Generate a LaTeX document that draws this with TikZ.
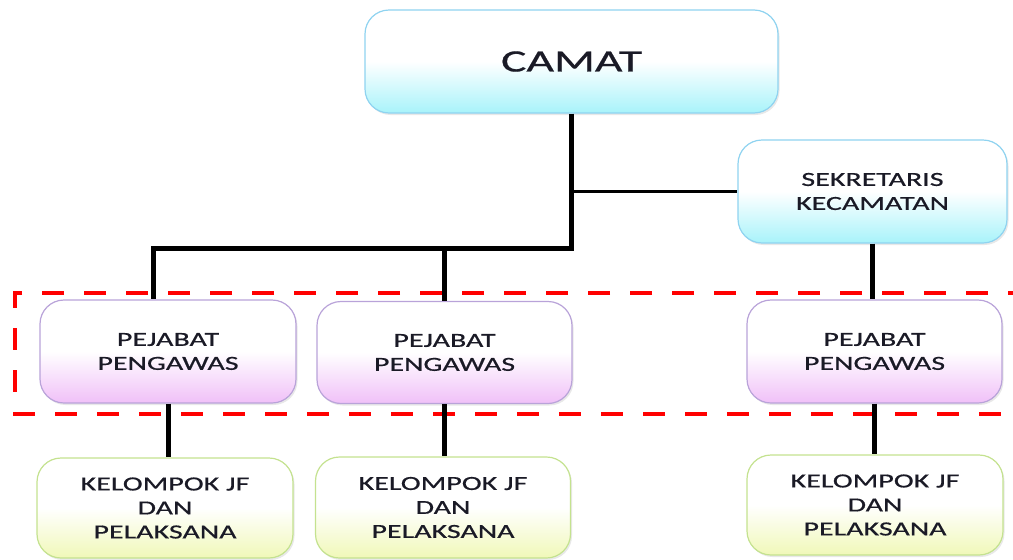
\documentclass[tikz,border=0pt]{standalone}
\usepackage{fontspec}
\usetikzlibrary{shadows}
\newfontfamily\orgfont[FakeStretch=1.5, FakeBold=0.6]{Carlito}
\newfontfamily\orgbigfont[FakeStretch=1.54, FakeBold=0.6]{Carlito}

\definecolor{cyanfill}{HTML}{A8F3FA}
\definecolor{cyanline}{HTML}{8FD3F0}
\definecolor{pinkfill}{HTML}{F0C0F8}
\definecolor{pinkline}{HTML}{B9A3D9}
\definecolor{yellowfill}{HTML}{F0F8B8}
\definecolor{yellowline}{HTML}{C4E28F}
\definecolor{textdark}{HTML}{1A1A26}

\tikzset{
  orgbox/.style={rectangle, rounded corners=24pt, line width=1.2pt,
    inner sep=0pt, align=center, text=textdark,
    font=\orgfont\fontsize{20}{24}\selectfont,
    drop shadow={shadow xshift=1.5pt, shadow yshift=-2pt, opacity=0.18}},
  headbox/.style={orgbox, draw=cyanline, top color=white, bottom color=cyanfill, middle color=white},
  officerbox/.style={orgbox, draw=pinkline, top color=white, bottom color=pinkfill, middle color=white},
  staffbox/.style={orgbox, draw=yellowline, top color=white, bottom color=yellowfill, middle color=white},
  conn/.style={line width=5pt, black},
  thinconn/.style={line width=3pt, black},
  groupframe/.style={red, line width=4pt, dash pattern=on 22pt off 20pt}
}

\begin{document}
\begin{tikzpicture}[x=1pt, y=-1pt]
  \useasboundingbox (0,0) rectangle (1013,560);

  % dashed frame around the supervisor level
  \draw[groupframe] (1030,293) -- (15,293) -- (15,414) -- (1030,414);

  % boxes
  \node[headbox, minimum width=413pt, minimum height=103pt,
        font=\orgbigfont\fontsize{31}{36}\selectfont] (camat) at (571.5,61.5) {CAMAT};
  \node[headbox, minimum width=269pt, minimum height=103pt] (sek) at (872.5,191.5) {SEKRETARIS\\KECAMATAN};

  \node[officerbox, minimum width=256pt, minimum height=103pt] (p1) at (168,351.5) {PEJABAT\\PENGAWAS};
  \node[officerbox, minimum width=255pt, minimum height=102pt] (p2) at (444.5,352.5) {PEJABAT\\PENGAWAS};
  \node[officerbox, minimum width=255pt, minimum height=103pt] (p3) at (874.5,351.5) {PEJABAT\\PENGAWAS};

  \node[staffbox, minimum width=256pt, minimum height=100pt] (k1) at (165,508) {KELOMPOK JF\\DAN\\PELAKSANA};
  \node[staffbox, minimum width=255pt, minimum height=101pt] (k2) at (443,507.5) {KELOMPOK JF\\DAN\\PELAKSANA};
  \node[staffbox, minimum width=256pt, minimum height=100pt] (k3) at (875,505) {KELOMPOK JF\\DAN\\PELAKSANA};

  % bus junction points
  \coordinate (busL) at (153,248);
  \coordinate (busM) at (444,248);

  % connectors
  \draw[conn] (camat.south) |- (busL) -- (busL |- p1.north);
  \draw[conn] (busM) -- (busM |- p2.north);
  \draw[thinconn] (camat.south |- sek.west) -- (sek.west);
  \draw[conn] (sek.south) -- (sek.south |- p3.north);

  \draw[conn] (p1.south) -- (p1.south |- k1.north);
  \draw[conn] (p2.south) -- (p2.south |- k2.north);
  \draw[conn] (p3.south) -- (p3.south |- k3.north);
\end{tikzpicture}
\end{document}
